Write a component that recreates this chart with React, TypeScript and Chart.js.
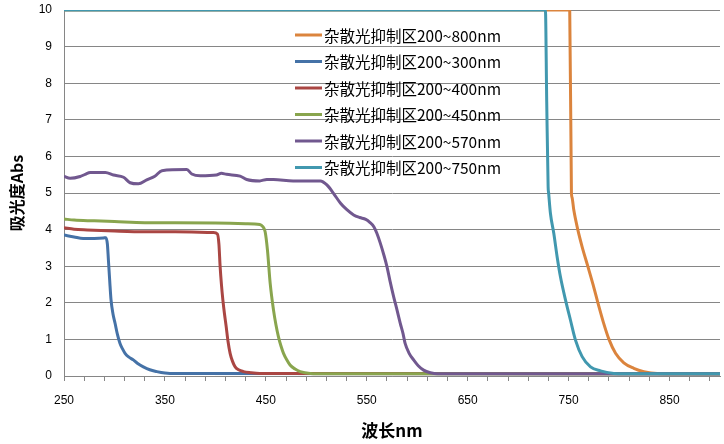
import React, { useEffect, useRef } from "react";
import { Chart, registerables } from "chart.js";

Chart.register(...registerables);

// ---- data ----
const SERIES_LABELS = [
  "杂散光抑制区200~800nm",
  "杂散光抑制区200~300nm",
  "杂散光抑制区200~400nm",
  "杂散光抑制区200~450nm",
  "杂散光抑制区200~570nm",
  "杂散光抑制区200~750nm",
];

const ORANGE_NM = [250, 751.1, 752.8, 753.4, 755.1, 759.1, 763.4, 769, 774.3, 779, 784.3, 790, 796.5, 804.7, 814.6, 824.5, 837.8, 900];
const ORANGE_ABS = [10, 10, 5.0, 4.88, 4.54, 4.0, 3.53, 3.0, 2.49, 2.0, 1.48, 1.0, 0.62, 0.36, 0.21, 0.12, 0.07, 0.06];

const BLUE_NM = [250, 260, 269, 280, 289, 291.5, 293, 294, 295.3, 296.6, 298.5, 300.6, 303, 305.5, 308, 310.5, 314, 318.7, 323, 328.6, 335, 342, 350, 355, 900];
const BLUE_ABS = [3.85, 3.8, 3.76, 3.76, 3.77, 3.78, 3.6, 3.17, 2.6, 2.08, 1.7, 1.44, 1.13, 0.89, 0.74, 0.62, 0.52, 0.44, 0.34, 0.25, 0.17, 0.12, 0.08, 0.07, 0.06];

const RED_NM = [250, 260, 273, 300, 330, 360, 398, 402, 403.5, 404.7, 406, 407.4, 409, 410.7, 412.5, 414.6, 417, 419.6, 423, 427.8, 435, 444, 900];
const RED_ABS = [4.05, 4.01, 3.99, 3.96, 3.94, 3.94, 3.92, 3.88, 3.6, 2.99, 2.5, 2.08, 1.7, 1.35, 0.95, 0.62, 0.4, 0.25, 0.17, 0.12, 0.09, 0.07, 0.06];

const GREEN_NM = [250, 260, 280, 300, 330, 360, 400, 430, 444, 447, 449.3, 451.6, 454.3, 457.6, 460, 462.5, 465, 467.5, 471, 474, 479, 484, 494, 510, 900];
const GREEN_ABS = [4.29, 4.26, 4.24, 4.22, 4.19, 4.19, 4.18, 4.16, 4.14, 4.08, 3.94, 3.44, 2.53, 1.8, 1.4, 1.07, 0.82, 0.62, 0.43, 0.3, 0.19, 0.12, 0.07, 0.06, 0.06];

const PURPLE_NM = [250, 256, 266, 271, 276, 291, 299, 309, 315.5, 323.7, 332, 340, 347, 371.7, 376.6, 385, 401, 406, 411, 424.5, 431, 444, 451, 457.6, 477, 504, 510.5, 517, 524, 530, 537, 543, 549, 553, 557, 560, 563.4, 567, 570, 573, 576.6, 580, 583.2, 586, 588, 592, 596.4, 601, 606.3, 613, 620, 900];
const PURPLE_ABS = [5.46, 5.4, 5.45, 5.51, 5.56, 5.56, 5.49, 5.43, 5.28, 5.25, 5.36, 5.46, 5.61, 5.64, 5.52, 5.47, 5.49, 5.54, 5.51, 5.46, 5.37, 5.33, 5.37, 5.37, 5.33, 5.33, 5.22, 4.99, 4.72, 4.55, 4.4, 4.33, 4.28, 4.2, 4.08, 3.9, 3.63, 3.3, 2.99, 2.6, 2.17, 1.8, 1.44, 1.15, 0.89, 0.62, 0.44, 0.28, 0.16, 0.09, 0.06, 0.06];

const TEAL_NM = [250, 727, 728.3, 729.7, 730.2, 732, 735.3, 738.6, 741.9, 746.9, 751.8, 756.8, 763.4, 771.7, 781.6, 794.8, 805, 900];
const TEAL_ABS = [10, 10, 7.5, 5.17, 5.0, 4.44, 3.9, 3.26, 2.71, 2.08, 1.53, 0.98, 0.53, 0.25, 0.14, 0.07, 0.06, 0.06];

const COLORS = ["#DB843D", "#4572A7", "#AA4643", "#89A54E", "#71588F", "#4198AF"];

const X_TICKS = [250, 270, 290, 310, 330, 350, 370, 390, 410, 430, 450, 470, 490, 510, 530, 550, 570, 590, 610, 630, 650, 670, 690, 710, 730, 750, 770, 790, 810, 830, 850, 870, 890];
const X_LABELS = [250, 350, 450, 550, 650, 750, 850];

const SERIES_NM = [ORANGE_NM, BLUE_NM, RED_NM, GREEN_NM, PURPLE_NM, TEAL_NM];
const SERIES_ABS = [ORANGE_ABS, BLUE_ABS, RED_ABS, GREEN_ABS, PURPLE_ABS, TEAL_ABS];

const TICK_FONT = { family: "'Liberation Sans', Arial, sans-serif", size: 12 };
const CJK = "'Noto Sans CJK SC', 'Noto Sans', sans-serif";

const insideLegend = {
  id: "insideLegend",
  afterDraw(chart: any) {
    const ctx = chart.ctx;
    const area = chart.chartArea;
    ctx.save();
    chart.data.datasets.forEach((ds: any, i: number) => {
      const y = area.top + 25 + i * 26.5;
      const x0 = area.left + 231;
      ctx.strokeStyle = ds.borderColor;
      ctx.lineWidth = 3;
      ctx.lineCap = "butt";
      ctx.beginPath();
      ctx.moveTo(x0, y);
      ctx.lineTo(x0 + 27, y);
      ctx.stroke();
      ctx.fillStyle = "#000";
      ctx.font = `15.5px ${CJK}`;
      ctx.textBaseline = "middle";
      ctx.textAlign = "left";
      ctx.fillText(ds.label, x0 + 29, y + 1);
    });
    ctx.restore();
  },
};

export default function App() {
  const ref = useRef<HTMLCanvasElement | null>(null);

  useEffect(() => {
    document.body.style.margin = "0";
    const canvas = ref.current;
    if (!canvas) return;
    const datasets = SERIES_LABELS.map((label, i) => ({
      label,
      data: SERIES_NM[i].map((x, j) => ({ x, y: SERIES_ABS[i][j] })),
      borderColor: COLORS[i],
      backgroundColor: COLORS[i],
      borderWidth: 3,
      pointRadius: 0,
      fill: false,
      cubicInterpolationMode: "monotone" as const,
      borderJoinStyle: "round" as const,
      order: SERIES_LABELS.length - 1 - i,
    }));
    const chart = new Chart(canvas, {
      type: "line",
      data: { datasets },
      plugins: [insideLegend],
      options: {
        animation: false,
        responsive: false,
        devicePixelRatio: 1,
        layout: { padding: { top: 10, right: 4, left: 0, bottom: 0 } },
        plugins: {
          legend: { display: false },
          tooltip: { enabled: false },
        },
        scales: {
          x: {
            type: "linear",
            min: 250,
            max: 900,
            afterBuildTicks: (s: any) => {
              s.ticks = X_TICKS.map((v) => ({ value: v }));
            },
            afterFit: (s: any) => {
              s.height = 68;
            },
            ticks: {
              autoSkip: false,
              maxRotation: 0,
              padding: 12,
              color: "#000",
              font: TICK_FONT,
              callback: (v: any) => (X_LABELS.includes(Number(v)) ? String(v) : ""),
            },
            grid: {
              drawOnChartArea: false,
              drawTicks: true,
              tickLength: 5,
              color: "#868686",
            },
            border: { display: true, color: "#868686" },
            title: {
              display: true,
              text: "波长nm",
              color: "#000",
              font: { family: CJK, size: 17, weight: "bold" },
              padding: { top: 0, bottom: 3 },
            },
          },
          y: {
            min: 0,
            max: 10,
            afterFit: (s: any) => {
              s.width = 64;
            },
            ticks: {
              stepSize: 1,
              padding: 0,
              color: "#000",
              font: TICK_FONT,
            },
            grid: {
              color: "#868686",
              drawTicks: true,
              tickLength: 12,
              tickColor: "rgba(0,0,0,0)",
              lineWidth: 1,
            },
            border: { display: true, color: "#868686" },
            title: {
              display: true,
              text: "吸光度Abs",
              color: "#000",
              font: { family: CJK, size: 16, weight: "bold" },
              padding: { top: 7, bottom: 0 },
            },
          },
        },
      },
    });
    return () => chart.destroy();
  }, []);

  return (
    <div style={{ width: 724, height: 444, position: "relative", background: "#fff" }}>
      <canvas ref={ref} width={724} height={444} style={{ width: 724, height: 444, display: "block" }} />
    </div>
  );
}
